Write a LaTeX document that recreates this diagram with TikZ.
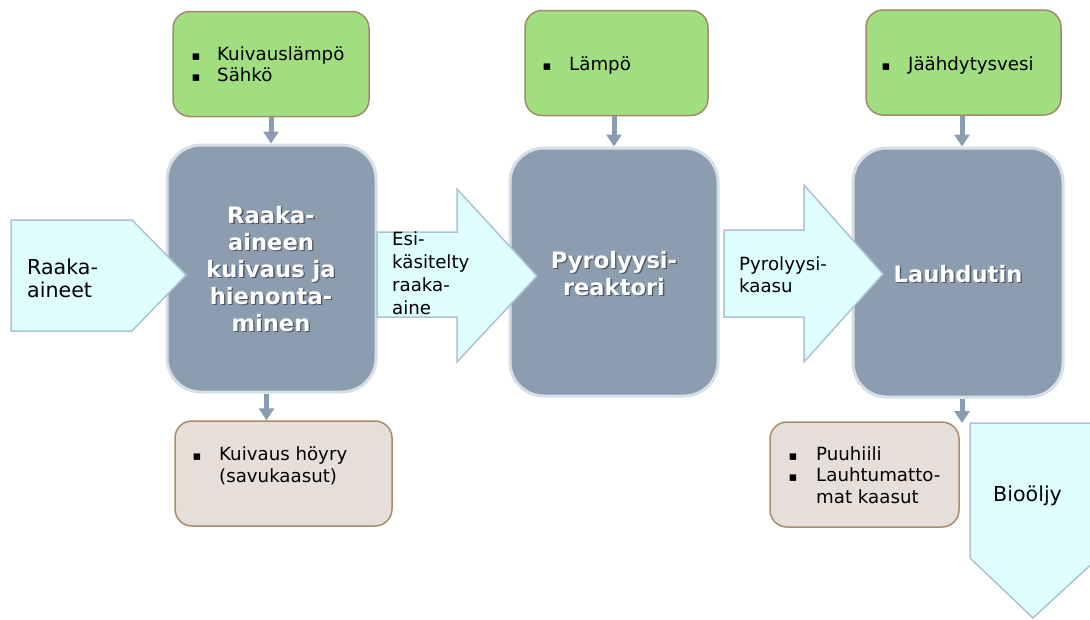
\documentclass[tikz,border=0pt]{standalone}
\usepackage{fontspec}
\setmainfont{DejaVu Sans}
\usetikzlibrary{arrows.meta}
\definecolor{grayfill}{HTML}{8D9DB0}
\definecolor{grayline}{HTML}{D6DEE7}
\definecolor{greenfill}{HTML}{A0DE80}
\definecolor{greenline}{HTML}{A08C6C}
\definecolor{brownfill}{HTML}{E6DFD9}
\definecolor{brownline}{HTML}{A88C6C}
\definecolor{cyanfill}{HTML}{DEFEFF}
\definecolor{cyanline}{HTML}{ADC3D3}
\definecolor{connc}{HTML}{8A9CB1}
\newcounter{lc}
\newcommand{\smtxt}{\fontsize{18.2}{22}\selectfont}
\newcommand{\bigtxt}{\fontsize{20.6}{24}\selectfont}
\newcommand{\boldtxt}{\fontsize{22.6}{27}\selectfont\bfseries}
% gray box label line with shadow: x, y (baseline), text
\newcommand{\wline}[3]{%
  \stepcounter{lc}%
  \node[gtxt, text=black, opacity=0.45, name=sh\thelc] at (#1+1.3,#2+1.3) {#3};
  \node[gtxt, name=wl\thelc] at (#1,#2) {#3};}
% plain text line: x, y (baseline), text
\newcommand{\tline}[4][\smtxt]{%
  \stepcounter{lc}%
  \node[ttxt, font=#1, name=tl\thelc] at (#2,#3) {#4};}
% bullet: x, y
\newcommand{\bul}[2]{%
  \stepcounter{lc}%
  \node[anchor=base, inner sep=0pt, font=\fontsize{13}{13}\selectfont, name=bu\thelc] at (#1,#2) {▪};}
\begin{document}
\begin{tikzpicture}[x=1pt,y=-1pt,
  greybox/.style={draw=grayline, line width=3pt, fill=grayfill, rounded corners=34pt, inner sep=0pt},
  greenbox/.style={draw=greenline, line width=1.5pt, fill=greenfill, rounded corners=17pt, inner sep=0pt},
  brownbox/.style={draw=brownline, line width=1.5pt, fill=brownfill, rounded corners=17pt, inner sep=0pt},
  blockarrow/.style={draw=cyanline, line width=1.5pt, fill=cyanfill, line join=miter},
  conn/.style={draw=connc, line width=5pt, -{Triangle[width=15pt,length=12pt]}},
  gtxt/.style={anchor=base, inner sep=0pt, text=white, font=\boldtxt},
  ttxt/.style={anchor=base west, inner sep=0pt, text=black}]
\clip (0,0) rectangle (1090,619);
\fill[white] (0,0) rectangle (1090,619);

% top inputs
\node[greenbox, minimum width=196pt, minimum height=105pt] (g1) at (271,64) {};
\node[greenbox, minimum width=183pt, minimum height=105pt] (g2) at (616.5,63) {};
\node[greenbox, minimum width=195pt, minimum height=105pt] (g3) at (963.5,62.5) {};

% process boxes
\node[greybox, minimum width=209pt, minimum height=247pt] (p1) at (271.5,268.5) {};
\node[greybox, minimum width=208pt, minimum height=248pt] (p2) at (614,272) {};
\node[greybox, minimum width=210pt, minimum height=249pt] (p3) at (958,272.5) {};

% outputs
\node[brownbox, minimum width=217pt, minimum height=105pt] (b1) at (283.5,473.5) {};
\node[brownbox, minimum width=189pt, minimum height=105pt] (b2) at (864.5,474.5) {};

% block arrows
\draw[blockarrow] (11,220) -- (132,220) -- (186,275) -- (132,331) -- (11,331) -- cycle;
\draw[blockarrow] (377,232) -- (457,232) -- (457,189) -- (537,276) -- (457,362) -- (457,317) -- (377,317) -- cycle;
\draw[blockarrow] (724,230) -- (804,230) -- (804,185) -- (883,274) -- (804,362) -- (804,317) -- (724,317) -- cycle;
\draw[blockarrow] (970,423) -- (1098,423) -- (1098,558) -- (1033,618) -- (970,558) -- cycle;

% connectors
\coordinate (bio) at (962,423);
\draw[conn] (g1.south) -- (g1.south |- p1.north);
\draw[conn] (p2.north |- g2.south) -- (p2.north);
\draw[conn] ([xshift=-1.5pt]g3.south) -- ([xshift=-1.5pt]g3.south |- p3.north);
\draw[conn] ([xshift=-5pt]p1.south) -- ([xshift=-5pt]p1.south |- b1.north);
\draw[conn] (bio |- p3.south) -- (bio);

% gray box labels
\wline{271}{223}{Raaka-}
\wline{271}{250}{aineen}
\wline{271}{277}{kuivaus ja}
\wline{271}{304}{hienonta-}
\wline{271}{331}{minen}
\wline{614}{268}{Pyrolyysi-}
\wline{614}{295}{reaktori}
\wline{958}{282}{Lauhdutin}

% block arrow labels
\tline[\bigtxt]{27}{274}{Raaka-}
\tline[\bigtxt]{27}{297}{aineet}
\tline{392}{245}{Esi-}
\tline{392}{268}{käsitelty}
\tline{392}{291}{raaka-}
\tline{392}{314}{aine}
\tline{739}{270}{Pyrolyysi-}
\tline{739}{292}{kaasu}
\tline[\bigtxt]{993}{501}{Bioöljy}

% green box texts
\bul{196}{60}\tline{217}{60}{Kuivauslämpö}
\tline{217}{81}{Sähkö}\bul{196}{81}
\bul{547}{70}\tline{569}{70}{Lämpö}
\bul{886}{70}\tline{908}{70}{Jäähdytysvesi}

% brown box texts
\bul{197}{460}\tline{219}{460}{Kuivaus höyry}
\tline{219}{482}{(savukaasut)}
\bul{793}{460}\tline{816}{460}{Puuhiili}
\bul{793}{481}\tline{816}{481}{Lauhtumatto-}
\tline{816}{503}{mat kaasut}
\end{tikzpicture}
\end{document}
